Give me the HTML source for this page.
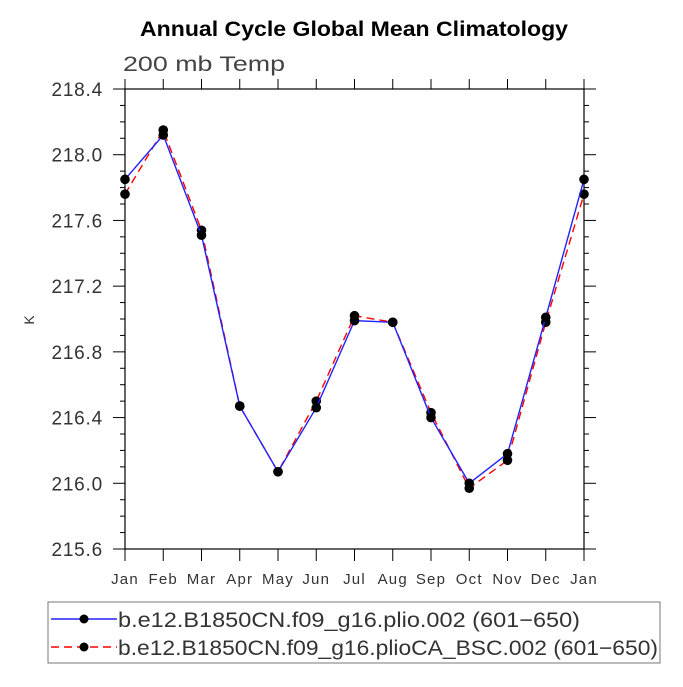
<!DOCTYPE html>
<html><head><meta charset="utf-8"><style>
body{margin:0;background:#fff;}
svg text{font-family:"Liberation Sans",sans-serif;}
</style></head><body>
<svg id="chart" width="683" height="682" xmlns="http://www.w3.org/2000/svg">
<text x="140" y="36" font-size="21" font-weight="bold" textLength="428" lengthAdjust="spacingAndGlyphs">Annual Cycle Global Mean Climatology</text>
<text x="123" y="71" font-size="21" fill="#444" textLength="162" lengthAdjust="spacingAndGlyphs">200 mb Temp</text>
<text x="34" y="320" font-size="14" fill="#333" text-anchor="middle" transform="rotate(-90 34 320)">K</text>
<g id="axes"></g>
<g id="series"></g>
<g>
<rect x="48" y="602" width="612" height="61" fill="none" stroke="#777" stroke-width="1"/>
<g>
<line x1="51" y1="619" x2="117" y2="619" stroke="#2222ff" stroke-width="1.5"/>
<circle cx="84" cy="619" r="4.5" fill="#000"/>
<text x="118" y="627" font-size="21" fill="#333" textLength="462" lengthAdjust="spacingAndGlyphs">b.e12.B1850CN.f09_g16.plio.002 (601−650)</text>
</g>
<g>
<line x1="51" y1="647" x2="117" y2="647" stroke="#ff0000" stroke-width="1.5" stroke-dasharray="8,5"/>
<circle cx="84" cy="647" r="4.5" fill="#000"/>
<text x="118" y="655" font-size="21" fill="#333" textLength="540" lengthAdjust="spacingAndGlyphs">b.e12.B1850CN.f09_g16.plioCA_BSC.002 (601−650)</text>
</g>
</g>
</svg>
<script>
const months = ["Jan","Feb","Mar","Apr","May","Jun","Jul","Aug","Sep","Oct","Nov","Dec","Jan"];
const yTicks = [215.6,216.0,216.4,216.8,217.2,217.6,218.0,218.4];
const plioValues = [217.85,218.12,217.51,216.47,216.07,216.46,216.99,216.98,216.40,216.00,216.18,217.01,217.85];
const plioCAValues = [217.76,218.15,217.54,216.47,216.07,216.50,217.02,216.98,216.43,215.97,216.14,216.98,217.76];

const NS="http://www.w3.org/2000/svg";
const L=125,R=584,T=89,B=549,yMin=215.6,yMax=218.4;
function xS(i){return L+(R-L)*i/(months.length-1);}
function yS(v){return B-(v-yMin)/(yMax-yMin)*(B-T);}
function mk(tag,attrs,parent){const e=document.createElementNS(NS,tag);for(const k in attrs)e.setAttribute(k,attrs[k]);parent.appendChild(e);return e;}
const ax=document.getElementById('axes');
const frame=mk('rect',{x:L,y:T,width:R-L,height:B-T,fill:'none',stroke:'#000','stroke-width':1.2},ax);


months.forEach((m,i)=>{
  const x=xS(i);
  mk('line',{x1:x,y1:B,x2:x,y2:B+12,stroke:'#000'},ax);
  mk('line',{x1:x,y1:T,x2:x,y2:T-10,stroke:'#000'},ax);
  const t=mk('text',{x:x,y:584,'text-anchor':'middle','font-size':15,fill:'#333','letter-spacing':'1.2'},ax);
  t.textContent=m;
  
  
});
for(let v=yMin;v<=yMax+1e-6;v+=0.1){
  const y=yS(v);
  const major=Math.abs((v-yMin)/0.4-Math.round((v-yMin)/0.4))<1e-6;
  const len=major?12:5;
  mk('line',{x1:L-len,y1:y,x2:L,y2:y,stroke:'#000'},ax);
  mk('line',{x1:R,y1:y,x2:R+len,y2:y,stroke:'#000'},ax);
}
yTicks.forEach(v=>{
  const t=mk('text',{x:103,y:yS(v)+7,'text-anchor':'end','font-size':19,fill:'#333','letter-spacing':'0.8'},ax);
  t.textContent=v.toFixed(1);
  
  
});
const sg=document.getElementById('series');
function drawSeries(vals,color,dash,name){
  const g=mk('g',{},sg);
  
  
  const pts=vals.map((v,i)=>xS(i)+','+yS(v)).join(' ');
  const attrs={points:pts,fill:'none',stroke:color,'stroke-width':1.4};
  if(dash)attrs['stroke-dasharray']=dash;
  mk('polyline',attrs,g);
  vals.forEach((v,i)=>{
    const c=mk('circle',{cx:xS(i),cy:yS(v),r:4.8,fill:'#000'},g);
    
    
  });
}
drawSeries(plioCAValues,'#ff0000','8,5','series-plioCA');
drawSeries(plioValues,'#2222ff',null,'series-plio');
</script>
</body></html>
